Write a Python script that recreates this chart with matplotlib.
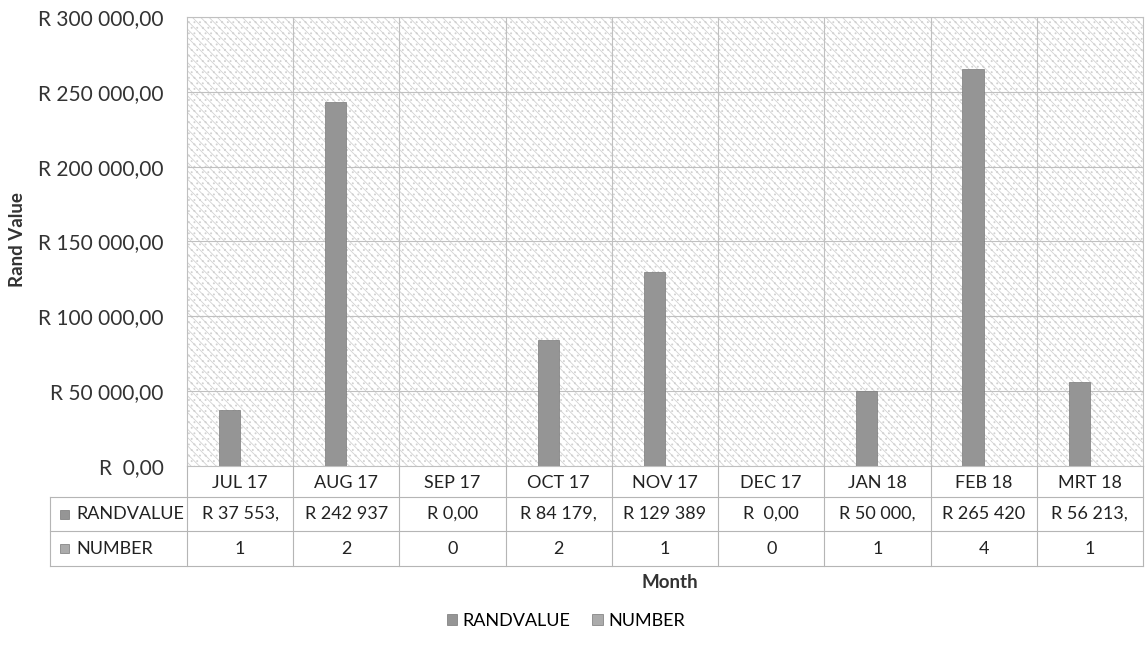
import matplotlib.pyplot as plt
from matplotlib.patches import Patch, Rectangle
from matplotlib.lines import Line2D
import numpy as np

plt.rcParams['font.family'] = ['Lato', 'DejaVu Sans']
plt.rcParams['hatch.linewidth'] = 0.6

months = ['JUL 17', 'AUG 17', 'SEP 17', 'OCT 17', 'NOV 17', 'DEC 17', 'JAN 18', 'FEB 18', 'MRT 18']
randvalue = [37553, 242937, 0, 84179, 129389, 0, 50000, 265420, 56213]
number = [1, 2, 0, 2, 1, 0, 1, 4, 1]
randvalue_labels = ['R 37 553,', 'R 242 937', 'R 0,00', 'R 84 179,', 'R 129 389',
                    'R  0,00', 'R 50 000,', 'R 265 420', 'R 56 213,']
series = ['RANDVALUE', 'NUMBER']
yticks = [0, 50000, 100000, 150000, 200000, 250000, 300000]

c_rand = '#959595'
c_num = '#ababab'
grid_c = '#c0c0c0'


def rand_fmt(v):
    s = f"{v:,.2f}".replace(',', ' ').replace('.', ',')
    return 'R  ' + s if v == 0 else 'R ' + s


W, H = 1145, 663
fig = plt.figure(figsize=(W / 100, H / 100), dpi=100)
left, right, top, bottom = 187, 1143, 17, 466
ax = fig.add_axes([left / W, 1 - bottom / H, (right - left) / W, (bottom - top) / H])

x = np.arange(len(months))
ax.set_xlim(-0.5, len(months) - 0.5)
ax.set_ylim(0, 300000)

# hatched background
ax.add_patch(Rectangle((0, 0), 1, 1, transform=ax.transAxes, facecolor='white',
                       hatch='\\\\\\\\...', edgecolor='#d2d2d2', lw=0, zorder=0))

for yv in yticks[1:]:
    ax.axhline(yv, color=grid_c, lw=0.8, zorder=1)
for xv in np.arange(0.5, len(months) - 0.5):
    ax.axvline(xv, color=grid_c, lw=0.8, zorder=1)

ax.bar(x - 0.1, randvalue, width=0.2, color=c_rand, edgecolor='#7a7a7a', lw=0.5, zorder=3)
ax.bar(x + 0.1, number, width=0.2, color=c_num, zorder=3)

for s in ax.spines.values():
    s.set_color(grid_c)
    s.set_linewidth(0.8)

ax.set_xticks([])
ax.set_yticks(yticks)
ax.set_yticklabels([rand_fmt(v) for v in yticks], fontsize=15, color='#333333')
ax.tick_params(axis='y', length=0, pad=17)

# data table under the axes, drawn in figure pixels
def fx(px):
    return px / W


def fy(py):
    return 1 - py / H


tab_left = 50
col_w = (right - left) / len(months)
row_lines = [497, 531, 566]
line_kw = dict(transform=fig.transFigure, color='#b5b5b5', lw=0.8)
for yy in row_lines:
    fig.add_artist(Line2D([fx(tab_left), fx(right)], [fy(yy), fy(yy)], **line_kw))
fig.add_artist(Line2D([fx(tab_left), fx(tab_left)], [fy(497), fy(566)], **line_kw))
for i in range(len(months) + 1):
    xx = left + i * col_w
    fig.add_artist(Line2D([fx(xx), fx(xx)], [fy(bottom), fy(566)], **line_kw))

row_mid = [(bottom + 497) / 2 + 1, (497 + 531) / 2, (531 + 566) / 2]
for i, m in enumerate(months):
    cx = left + (i + 0.5) * col_w
    fig.text(fx(cx), fy(row_mid[0]), m, ha='center', va='center', fontsize=13, color='#222222')
    fig.text(fx(cx), fy(row_mid[1]), randvalue_labels[i], ha='center', va='center',
             fontsize=13, color='#222222')
    fig.text(fx(cx), fy(row_mid[2]), str(number[i]), ha='center', va='center',
             fontsize=13, color='#222222')

for name, col, yy in zip(series, [c_rand, c_num], row_mid[1:]):
    fig.patches.append(Rectangle((fx(60), fy(yy + 4.5)), 9 / W, 9 / H,
                                 transform=fig.transFigure, facecolor=col,
                                 edgecolor='#777777', lw=0.5))
    fig.text(fx(76), fy(yy), name, ha='left', va='center', fontsize=13, color='#222222')

fig.text(18 / W, 1 - 240 / H, 'Rand Value', rotation=90, fontsize=13.5,
         fontweight='bold', ha='center', va='center', color='#333333')
fig.text(670 / W, 1 - 583 / H, 'Month', fontsize=13.5, fontweight='bold',
         ha='center', va='center', color='#333333')

handles = [Patch(facecolor=c_rand, edgecolor='#777777', lw=0.5),
           Patch(facecolor=c_num, edgecolor='#777777', lw=0.5)]
fig.legend(handles, series, loc='center', bbox_to_anchor=(566 / W, 1 - 621 / H),
           ncol=2, frameon=False, fontsize=13, handlelength=0.6, handleheight=0.6,
           handletextpad=0.3, columnspacing=1.2)

fig.savefig('out.png', dpi=100)
